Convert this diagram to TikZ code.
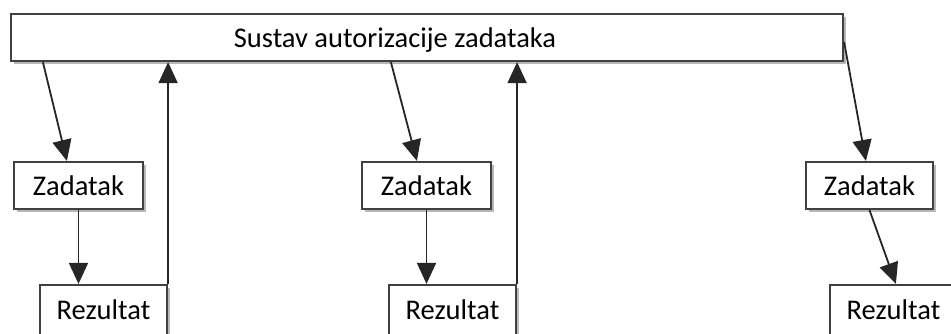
\documentclass[tikz,border=0pt]{standalone}
\usepackage{fontspec}
\setmainfont{Carlito}
\usetikzlibrary{shadows,arrows.meta,calc}
\begin{document}
\begin{tikzpicture}[x=1pt,y=-1pt,
  box/.style={draw=black!75, line width=2.2pt, fill=white, inner sep=0pt,
    drop shadow={shadow xshift=3pt, shadow yshift=-3pt, fill=black!40, opacity=0.7}},
  lbl/.style={font=\fontsize{28.5}{30}\selectfont, inner sep=0pt, text=black},
  arr/.style={draw=black!85, line width=1.8pt, -{Triangle[width=19pt,length=21pt]}}]
\useasboundingbox (0,0) rectangle (951,333);
% top box
\node[box, minimum width=832pt, minimum height=47pt] (top) at (427,37.5) {};
\node[lbl] (toptxt) at (395,40) {Sustav autorizacije zadataka};
% task boxes
\node[box, minimum width=129pt, minimum height=47pt, lbl] (z1) at (78.5,185.5) {Zadatak};
\node[box, minimum width=129pt, minimum height=47pt, lbl] (z2) at (426.5,185.5) {Zadatak};
\node[box, minimum width=127pt, minimum height=47pt, lbl] (z3) at (869.5,185.5) {Zadatak};
% result boxes
\node[box, minimum width=127pt, minimum height=50pt, lbl] (r1) at (103.5,310) {Rezultat};
\node[box, minimum width=127pt, minimum height=50pt, lbl] (r2) at (452.5,310) {Rezultat};
\node[box, minimum width=127pt, minimum height=50pt, lbl] (r3) at (893.5,310) {Rezultat};
% arrows column 1
\draw[arr] ($(top.south west)+(33,0)$) -- ($(z1.north west)+(54,0)$);
\draw[arr] (z1.south) -- (z1.south |- r1.north);
\draw[arr] (r1.north east) -- (r1.north east |- top.south);
% arrows column 2
\draw[arr] ($(top.south west)+(381,0)$) -- ($(z2.north west)+(56,0)$);
\draw[arr] (z2.south) -- (z2.south |- r2.north);
\draw[arr] (r2.north east) -- (r2.north east |- top.south);
% arrows column 3
\draw[arr] ($(top.north east)+(0,29)$) -- ($(z3.north west)+(61,0)$);
\draw[arr] (z3.south) -- ($(r3.north west)+(67,0)$);
\end{tikzpicture}
\end{document}
